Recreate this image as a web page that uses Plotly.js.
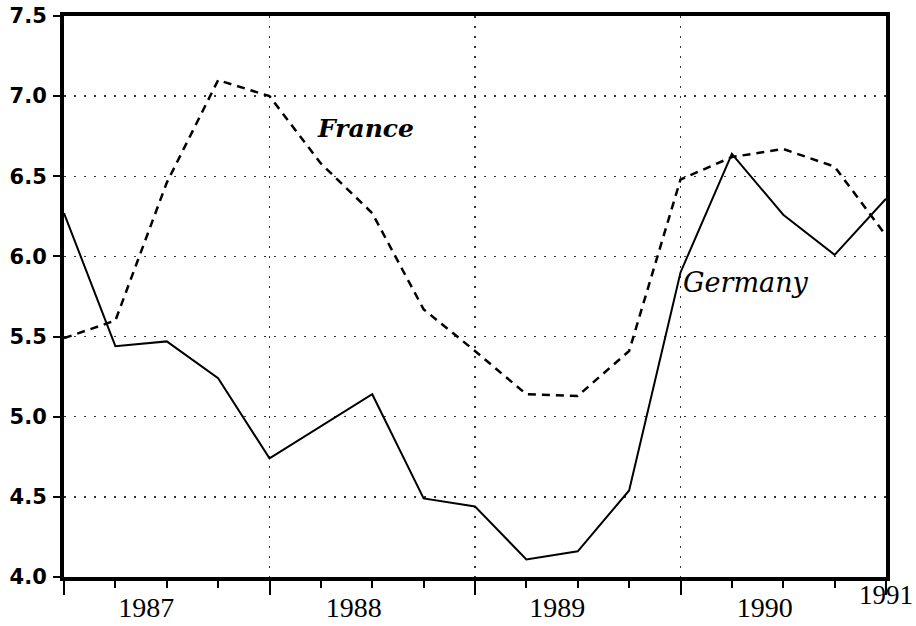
<!DOCTYPE html>
<html>
<head>
<meta charset="utf-8">
<script src="https://cdn.plot.ly/plotly-3.0.1.min.js"></script>
<style>
  html, body { margin: 0; padding: 0; background: #ffffff; }
  #chart { width: 916px; height: 626px; }
</style>
</head>
<body>
<div id="chart"></div>
<script>
// Quarterly observations (fractional years)
const quarters = [1987.00, 1987.25, 1987.50, 1987.75, 1988.00, 1988.25, 1988.50, 1988.75,
                  1989.00, 1989.25, 1989.50, 1989.75, 1990.00, 1990.25, 1990.50, 1990.75, 1991.00];

const germany = [6.27, 5.44, 5.47, 5.24, 4.74, 4.94, 5.14, 4.49,
                 4.44, 4.11, 4.16, 4.54, 5.90, 6.64, 6.26, 6.01, 6.36];

const france  = [5.49, 5.60, 6.46, 7.10, 7.00, 6.58, 6.27, 5.67,
                 5.41, 5.14, 5.13, 5.41, 6.48, 6.62, 6.67, 6.56, 6.13];

const yearLabels = ['1987', '1988', '1989', '1990'];
const yearLabelPos = [1987.40, 1988.41, 1989.40, 1990.41];
const yearBounds = [1987, 1988, 1989, 1990, 1991];
const yTicks = [4.0, 4.5, 5.0, 5.5, 6.0, 6.5, 7.0, 7.5];

const seriesNames = ['Germany', 'France'];

const traces = [
  {
    x: quarters, y: germany, name: seriesNames[0], type: 'scatter', mode: 'lines',
    line: { color: '#000000', width: 2 }, xaxis: 'x', yaxis: 'y'
  },
  {
    x: quarters, y: france, name: seriesNames[1], type: 'scatter', mode: 'lines',
    line: { color: '#000000', width: 2.5, dash: '8px,6px' }, xaxis: 'x2', yaxis: 'y'
  }
];

const gridStyle = { gridcolor: '#333333', gridwidth: 1.5, griddash: '2px,8px' };

const layout = {
  width: 916, height: 626,
  margin: { l: 64, r: 30, t: 16, b: 49 },
  paper_bgcolor: '#ffffff', plot_bgcolor: '#ffffff',
  showlegend: false,
  xaxis: Object.assign({
    range: [1987, 1991],
    tickmode: 'array', tickvals: yearBounds,
    ticks: 'outside', ticklen: 14, tickwidth: 2, tickcolor: '#000',
    showticklabels: false,
    showgrid: true,
    zeroline: false,
    showline: true, linewidth: 4, linecolor: '#000', mirror: true,
    minor: { tickmode: 'linear', tick0: 1987, dtick: 0.25, ticks: 'outside', ticklen: 7, tickwidth: 2, tickcolor: '#000', showgrid: false }
  }, gridStyle),
  xaxis2: {
    overlaying: 'x', anchor: 'y', side: 'bottom',
    range: [1987, 1991],
    tickmode: 'array', tickvals: yearLabelPos, ticktext: yearLabels,
    ticks: '', showgrid: false, zeroline: false, showline: false,
    ticklabelstandoff: 11,
    tickfont: { family: 'Liberation Serif', size: 28, color: '#000' }
  },
  yaxis: Object.assign({
    range: [4.0, 7.5],
    tickmode: 'array', tickvals: yTicks, tickformat: '.1f',
    ticks: 'outside', ticklen: 7, tickwidth: 2, tickcolor: '#000',
    showgrid: true, zeroline: false,
    showline: true, linewidth: 4, linecolor: '#000', mirror: true,
    ticklabelstandoff: 2,
    tickfont: { family: 'DejaVu Sans', size: 21, color: '#000', weight: 'bold' }
  }, gridStyle),
  annotations: [
    {
      x: 1988.465, y: 6.80, xref: 'x', yref: 'y', text: seriesNames[1],
      showarrow: false, xanchor: 'center', yanchor: 'middle',
      font: { family: 'DejaVu Serif', size: 25, color: '#000', style: 'italic', weight: 'bold' }
    },
    {
      x: 1990.0, y: 5.84, xref: 'x', yref: 'y', text: seriesNames[0],
      showarrow: false, xanchor: 'left', yanchor: 'middle',
      font: { family: 'DejaVu Serif', size: 27, color: '#000', style: 'italic' }
    },
    {
      x: 1991, y: 0, xref: 'x', yref: 'paper', text: '1991',
      showarrow: false, xanchor: 'center', yanchor: 'top', xshift: 0, yshift: -1,
      font: { family: 'Liberation Serif', size: 27, color: '#000' }
    }
  ]
};

Plotly.newPlot('chart', traces, layout, { displayModeBar: false, staticPlot: true });
</script>
</body>
</html>
